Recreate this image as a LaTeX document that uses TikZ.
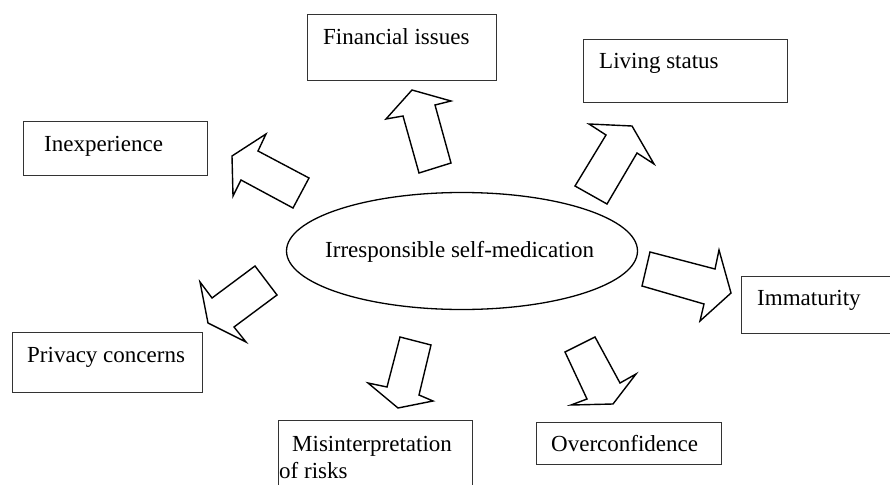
\documentclass[tikz,border=0pt]{standalone}
\usepackage{fontspec}
\setmainfont{Liberation Serif}
\usetikzlibrary{shapes.geometric}
\begin{document}
\begin{tikzpicture}[x=1pt,y=-1pt,
  boxst/.style={draw=black!80, line width=1.3pt, rectangle, inner sep=0pt, anchor=north west},
  txt/.style={inner sep=0pt, anchor=base west, font=\fontsize{23}{26}\selectfont},
  blockarrow/.style={draw=black, line width=1.4pt, line join=miter, fill=white},
  ellst/.style={draw=black, line width=1.3pt, ellipse, inner sep=0pt, font=\fontsize{23}{26}\selectfont}]
\useasboundingbox (0,0) rectangle (890,484);
\fill[white] (0,0) rectangle (890,484);
\begin{scope}
\clip (0,0) rectangle (890,484);
% central ellipse
\node[ellst, minimum width=351, minimum height=117] (center) at (462,251) {};
\node[txt] (centertxt) at (325,257) {Irresponsible self-medication};
% boxes
\node[boxst, minimum width=189, minimum height=66] (finbox) at (307,14) {};
\node[txt] (fintxt) at (323,45) {Financial issues};
\node[boxst, minimum width=204, minimum height=63] (livbox) at (583,39) {};
\node[txt] (livtxt) at (599,69) {Living status};
\node[boxst, minimum width=184, minimum height=54] (inexbox) at (23,121) {};
\node[txt] (inextxt) at (44,151) {Inexperience};
\node[boxst, minimum width=190, minimum height=60] (privbox) at (12,332) {};
\node[txt] (privtxt) at (27,362) {Privacy concerns};
\node[boxst, minimum width=194, minimum height=80] (misbox) at (278,420) {};
\node[txt] (mistxt) at (292,451) {Misinterpretation};
\node[txt] (mistxtb) at (279,478) {of risks};
\node[boxst, minimum width=185, minimum height=42] (overbox) at (536,422) {};
\node[txt] (overtxt) at (551,451) {Overconfidence};
\node[boxst, minimum width=160, minimum height=57] (immbox) at (741,276) {};
\node[txt] (immtxt) at (757,305) {Immaturity};
% block arrows
\draw[blockarrow] (412,90) -- (451,101) -- (435,105) -- (451,163) -- (419,173) -- (403,116) -- (386,119) -- cycle;
\draw[blockarrow] (589,124) -- (632,126) -- (654,164) -- (637,153) -- (607,204) -- (575,186) -- (606,135) -- cycle;
\draw[blockarrow] (266,134) -- (258,151) -- (309,178) -- (293,208) -- (241,180) -- (233,196) -- (232,156) -- cycle;
\draw[blockarrow] (255,266) -- (277,295) -- (234,327) -- (246,342) -- (208,323) -- (200,282) -- (212,298) -- cycle;
\draw[blockarrow] (400,337) -- (431,345) -- (419,395) -- (433,401) -- (398,408) -- (368,383) -- (387,387) -- cycle;
\draw[blockarrow] (565,352) -- (595,337) -- (620,383) -- (636,374) -- (613,404) -- (571,405) -- (587,399) -- cycle;
\draw[blockarrow] (650,252) -- (715,269) -- (719,250) -- (731,293) -- (700,321) -- (704,304) -- (642,286) -- cycle;
\end{scope}
\end{tikzpicture}
\end{document}
